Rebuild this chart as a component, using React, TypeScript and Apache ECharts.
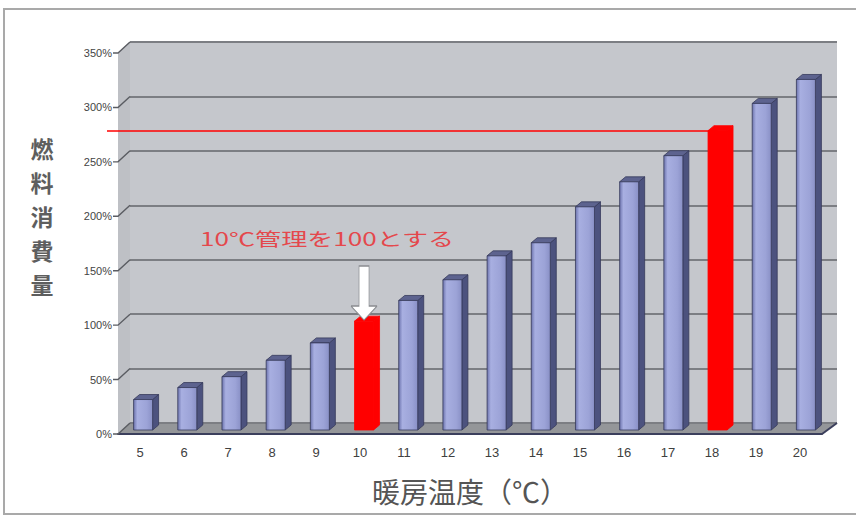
import React, { useEffect, useRef } from 'react';
import * as echarts from 'echarts';

// 暖房温度（℃）
const temperatures = ['5', '6', '7', '8', '9', '10', '11', '12', '13', '14', '15', '16', '17', '18', '19', '20'];
// 燃料消費量（10℃管理 = 100%）
const consumption = [28, 39, 49, 64, 80, 100, 119, 138, 160, 172, 205, 228, 252, 275, 300, 322];
// 赤で強調する温度
const highlighted = ['10', '18'];
// 縦軸の目盛
const yTicks = [0, 50, 100, 150, 200, 250, 300, 350];
const yTickLabels = yTicks.map((v) => `${v}%`);
// 基準線の温度と値
const referenceTemp = '18';
const referenceValue = consumption[temperatures.indexOf(referenceTemp)];
const baseTemp = '10';
const baseValue = consumption[temperatures.indexOf(baseTemp)];

const FONT = '"Liberation Sans", "Noto Sans", sans-serif';
const JP_FONT = '"Noto Sans CJK JP", sans-serif';

// 3D風の奥行き
const DEPTH_X = 6;
const DEPTH_Y = 5;

function renderBar(params: any, api: any) {
  const idx = api.value(0);
  const v = api.value(1);
  const top = api.coord([idx, v]);
  const base = api.coord([idx, 0]);
  const band = api.size([1, 0])[0];
  const w = band * 0.43;
  const x0 = top[0] - w / 2;
  const x1 = x0 + w;
  const yt = top[1];
  const yb = base[1];
  const red = highlighted.includes(temperatures[params.dataIndex]);

  const front = red
    ? '#ff0000'
    : new echarts.graphic.LinearGradient(0, 0, 1, 0, [
        { offset: 0, color: '#6d74ae' },
        { offset: 0.2, color: '#a8afe1' },
        { offset: 0.7, color: '#9ca3d7' },
        { offset: 1, color: '#8990c6' },
      ]);
  const side = red ? '#ff0000' : '#4c527e';
  const topFill = red ? '#ff0000' : '#5d638f';
  const stroke = red ? '#ff0000' : '#363a5a';

  return {
    type: 'group',
    children: [
      {
        type: 'polygon',
        shape: {
          points: [
            [x1, yt],
            [x1 + DEPTH_X, yt - DEPTH_Y],
            [x1 + DEPTH_X, yb - DEPTH_Y],
            [x1, yb],
          ],
        },
        style: { fill: side, stroke, lineWidth: 0.8 },
      },
      {
        type: 'polygon',
        shape: {
          points: [
            [x0, yt],
            [x0 + DEPTH_X, yt - DEPTH_Y],
            [x1 + DEPTH_X, yt - DEPTH_Y],
            [x1, yt],
          ],
        },
        style: { fill: topFill, stroke, lineWidth: 0.8 },
      },
      {
        type: 'rect',
        shape: { x: x0, y: yt, width: w, height: yb - yt },
        style: { fill: front, stroke, lineWidth: 0.8 },
      },
    ],
  };
}

// 左壁の目盛線（手前の目盛から奥の壁へ）
function renderWallTick(params: any, api: any) {
  const p = api.coord([0, api.value(1)]);
  const band = api.size([1, 0])[0];
  const x = p[0] - band / 2;
  return {
    type: 'polyline',
    shape: {
      points: [
        [x - 5, p[1]],
        [x, p[1]],
        [x + 12, p[1] - 11],
      ],
    },
    style: { stroke: '#5a5c62', lineWidth: 1.4, fill: 'none' },
  };
}

export default function App() {
  const ref = useRef<HTMLDivElement>(null);

  useEffect(() => {
    if (!ref.current) return;
    const chart = echarts.init(ref.current, null, { renderer: 'svg' });

    const yAxisBase = { type: 'value', min: 0, max: 350, interval: 50 };

    chart.setOption({
      animation: false,
      backgroundColor: '#ffffff',
      grid: [
        // 奥の壁
        { left: 130, top: 42, width: 707, height: 381, show: true, backgroundColor: '#c5c7cc', borderWidth: 0 },
        // 棒の面
        { left: 121, top: 49, width: 707, height: 381 },
        // 手前の軸
        { left: 118, top: 53, width: 704, height: 381 },
      ],
      xAxis: [
        { type: 'category', gridIndex: 0, data: temperatures, show: false },
        { type: 'category', gridIndex: 1, data: temperatures, show: false },
        {
          type: 'category',
          gridIndex: 2,
          data: temperatures,
          axisLine: { show: true, lineStyle: { color: '#3b3f5c', width: 2 } },
          axisTick: { show: false },
          axisLabel: { color: '#404040', fontSize: 13, fontFamily: FONT, margin: 12 },
          name: '暖房温度（℃）',
          nameLocation: 'middle',
          nameGap: 43,
          nameTextStyle: { color: '#555', fontSize: 28, fontFamily: JP_FONT },
        },
      ],
      yAxis: [
        {
          ...yAxisBase,
          gridIndex: 0,
          axisLine: { show: false },
          axisTick: { show: false },
          axisLabel: { show: false },
          splitLine: { show: true, lineStyle: { color: '#7c7e83', width: 2 } },
        },
        { ...yAxisBase, gridIndex: 1, show: false, splitLine: { show: false } },
        {
          ...yAxisBase,
          gridIndex: 2,
          axisLine: { show: false },
          axisTick: { show: false },
          splitLine: { show: false },
          axisLabel: {
            color: '#444',
            fontSize: 11,
            fontFamily: FONT,
            margin: 6,
            formatter: (v: number) => yTickLabels[yTicks.indexOf(v)] ?? `${v}%`,
          },
        },
      ],
      graphic: [
        {
          type: 'rect',
          silent: true,
          z: -10,
          shape: { x: 4, y: 9, width: 900, height: 505 },
          style: { fill: '#ffffff', stroke: '#a9a9a9', lineWidth: 2 },
        },
        {
          type: 'polygon',
          silent: true,
          z: 0,
          shape: { points: [[118, 53], [130, 42], [130, 423], [118, 434]] },
          style: { fill: '#bec0c5' },
        },
        {
          type: 'polygon',
          silent: true,
          z: 0,
          shape: { points: [[118, 434], [822, 434], [837, 423], [130, 423]] },
          style: { fill: '#949699' },
        },
        {
          type: 'polyline',
          silent: true,
          z: 1,
          shape: { points: [[822, 434], [837, 423]] },
          style: { stroke: '#3b3f5c', lineWidth: 2 },
        },
        {
          type: 'text',
          silent: true,
          x: 42,
          y: 131,
          style: {
            text: '燃\n料\n消\n費\n量',
            fill: '#5e5e5e',
            fontSize: 23,
            lineHeight: 34,
            fontWeight: 'bold',
            fontFamily: JP_FONT,
            align: 'center',
            verticalAlign: 'top',
          },
        },
        {
          type: 'text',
          silent: true,
          x: 200,
          y: 238,
          scaleX: 1.45,
          z: 5,
          style: {
            text: `${baseTemp}℃管理を${baseValue}とする`,
            fill: '#e4484c',
            fontSize: 18,
            fontFamily: JP_FONT,
            align: 'left',
            verticalAlign: 'middle',
          },
        },
      ],
      series: [
        {
          type: 'custom',
          name: 'wallTicks',
          xAxisIndex: 2,
          yAxisIndex: 2,
          silent: true,
          z: 1,
          data: yTicks.map((v) => [temperatures[0], v]),
          encode: { x: 0, y: 1 },
          renderItem: renderWallTick,
        },
        {
          type: 'custom',
          name: '燃料消費量',
          xAxisIndex: 1,
          yAxisIndex: 1,
          silent: true,
          z: 3,
          data: consumption.map((v, i) => [temperatures[i], v]),
          encode: { x: 0, y: 1 },
          renderItem: renderBar,
          markPoint: {
            silent: true,
            data: [
              {
                coord: [baseTemp, baseValue],
                symbol: 'path://M8,0 L18,0 L18,40 L26,40 L13,54 L0,40 L8,40 Z',
                symbolSize: [26, 54],
                symbolOffset: [0, '-52%'],
                itemStyle: { color: '#ffffff', borderColor: '#8a8c90', borderWidth: 1 },
                label: { show: false },
              },
            ],
          },
        },
        {
          type: 'line',
          name: 'reference',
          xAxisIndex: 1,
          yAxisIndex: 1,
          z: 2,
          silent: true,
          data: [],
          markLine: {
            silent: true,
            symbol: ['none', 'none'],
            label: { show: false },
            lineStyle: { color: '#ff0000', width: 1.5, type: 'solid' },
            data: [[{ x: 107, yAxis: referenceValue }, { xAxis: referenceTemp, yAxis: referenceValue }]],
          },
        },
      ],
    });

    return () => chart.dispose();
  }, []);

  return (
    <div
      ref={ref}
      style={{ position: 'absolute', left: 0, top: 0, width: 856, height: 522 }}
    />
  );
}
